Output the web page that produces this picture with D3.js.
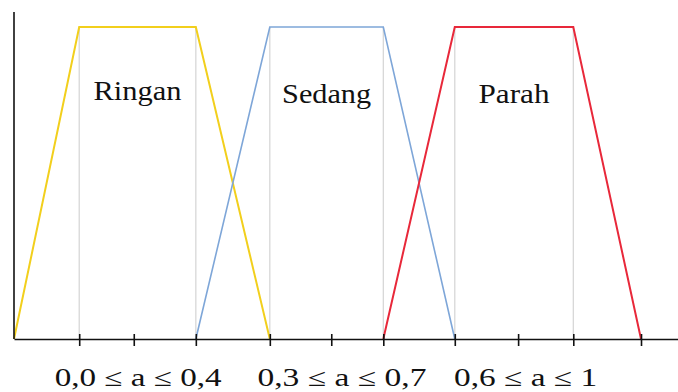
<!DOCTYPE html>
<html>
<head>
<meta charset="utf-8">
<script src="https://cdn.jsdelivr.net/npm/d3@7"></script>
<style>
  body { margin: 0; background: #fff; }
  text { font-family: "Liberation Serif", "Times New Roman", serif; fill: #111; }
</style>
</head>
<body>
<script>
// membership functions (x in "a" units, y = degree of membership)
var ringan = [[0, 0], [0.104, 1], [0.290, 1], [0.408, 0]];
var sedang = [[0.290, 0], [0.408, 1], [0.589, 1], [0.703, 0]];
var parah = [[0.589, 0], [0.703, 1], [0.892, 1], [1.0, 0]];
var names = ['Ringan', 'Sedang', 'Parah'];
var colors = ['#f2cf1c', '#7ea6d8', '#e8283a'];
var tickValues = [0.104, 0.191, 0.290, 0.408, 0.506, 0.589, 0.703, 0.804, 0.892, 1.0];
var rangeLabels = ['0,0 \u2264 a \u2264 0,4', '0,3 \u2264 a \u2264 0,7', '0,6 \u2264 a \u2264 1'];
var rangeLabelAt = [0.198, 0.523, 0.816];
var gridAt = [0.104, 0.290, 0.408, 0.589, 0.703, 0.892];

var svg = d3.select('body').append('svg')
  .attr('width', 678)
  .attr('height', 392);

var margin = { top: 12, right: 0, bottom: 53, left: 14 },
  width = +svg.attr('width') - margin.left - margin.right,
  height = +svg.attr('height') - margin.top - margin.bottom,
  g = svg.append('g').attr('transform', 'translate(' + margin.left + ',' + margin.top + ')');

var x = d3.scaleLinear().domain([0, 1.059]).range([0, width]);
var y = d3.scaleLinear().domain([0, 1.048]).range([height, 0]);

// light grey guides under the plateau corners
g.append('g').selectAll('line')
  .data(gridAt)
  .enter().append('line')
  .attr('x1', function (d) { return x(d); })
  .attr('x2', function (d) { return x(d); })
  .attr('y1', y(1))
  .attr('y2', y(0))
  .style('stroke', '#d4d4d4')
  .style('stroke-width', 1.2);

var line = d3.line()
  .x(function (d) { return x(d[0]); })
  .y(function (d) { return y(d[1]); });

var sets = [ringan, sedang, parah];
g.append('g').selectAll('path')
  .data(sets)
  .enter().append('path')
  .attr('d', line)
  .style('fill', 'none')
  .style('stroke', function (d, i) { return colors[i]; })
  .style('stroke-width', function (d, i) { return i == 1 ? 1.6 : 2; })
  .style('stroke-linejoin', 'miter');

// set names in the middle of each plateau
var nameWidths = [88, 89, 71];
g.append('g').selectAll('text')
  .data(sets)
  .enter().append('text')
  .attr('x', function (d) { return x((d[1][0] + d[2][0]) / 2); })
  .attr('y', function (d, i) { return i == 0 ? 88 : 91; })
  .attr('textLength', function (d, i) { return nameWidths[i]; })
  .attr('lengthAdjust', 'spacingAndGlyphs')
  .style('text-anchor', 'middle')
  .style('font-size', '27px')
  .text(function (d, i) { return names[i]; });

// x axis with ticks crossing the line
var xAxis = g.append('g')
  .attr('transform', 'translate(0,' + height + ')')
  .call(d3.axisBottom(x).tickValues(tickValues).tickSize(7).tickSizeOuter(0).tickFormat(''));
xAxis.select('.domain').style('stroke', '#111').style('stroke-width', 1.6);
xAxis.selectAll('.tick line').attr('y1', -5).style('stroke', '#111').style('stroke-width', 1.6);

// y axis, a plain line
g.append('line')
  .attr('x1', 0).attr('x2', 0)
  .attr('y1', 0).attr('y2', height)
  .style('stroke', '#111')
  .style('stroke-width', 1.6);

var labelWidths = [167, 169, 143];
g.append('g').selectAll('text')
  .data(rangeLabels)
  .enter().append('text')
  .attr('x', function (d, i) { return x(rangeLabelAt[i]); })
  .attr('y', height + 47)
  .attr('textLength', function (d, i) { return labelWidths[i]; })
  .attr('lengthAdjust', 'spacingAndGlyphs')
  .style('text-anchor', 'middle')
  .style('font-size', '25px')
  .text(function (d) { return d; });
</script>
</body>
</html>
